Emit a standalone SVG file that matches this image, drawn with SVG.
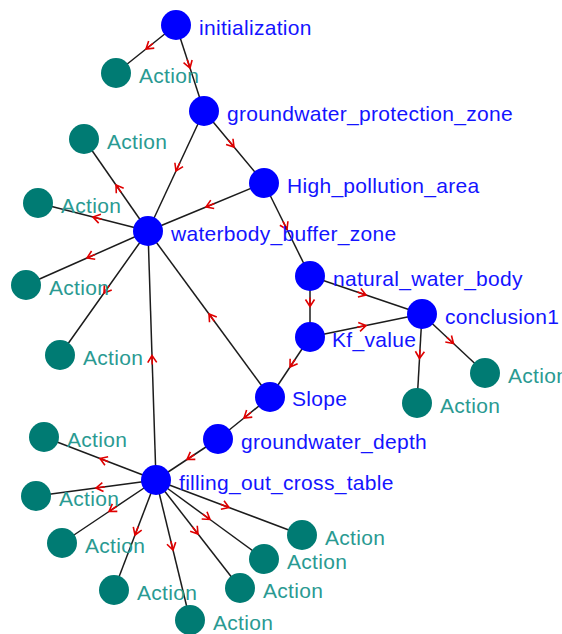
<svg xmlns="http://www.w3.org/2000/svg" width="562" height="634" viewBox="0 0 562 634">
  <style>
    .edge { fill: none; stroke: #1c1c1c; stroke-width: 1.5; marker-mid: url(#arr); }
    .rule { fill: #0000ff; }
    .act { fill: #007b73; }
    text { font-family: "Liberation Sans", Arial, sans-serif; font-size: 21px; letter-spacing: 0.3px; }
    .rule-t { fill: #1414ff; }
    .act-t { fill: #2a9a92; }
  </style>
  <defs>
    <marker id="arr" viewBox="-10 -6 12 12" markerWidth="12" markerHeight="12" refX="0" refY="0" orient="auto" markerUnits="userSpaceOnUse">
      <path d="M-7,-4.5 L0,0 L-7,4.5 M-9,0 L0,0" fill="none" stroke="#e00000" stroke-width="1.6"/>
    </marker>
  </defs>
  <rect width="562" height="634" fill="#ffffff"/>

  <g id="connectors">
    <path class="edge" d="M176,25 L146,49 L116,73"/>
    <path class="edge" d="M176,25 L190,68 L204,111"/>
    <path class="edge" d="M204,111 L176,171 L148,231"/>
    <path class="edge" d="M204,111 L234,147 L264,183"/>
    <path class="edge" d="M264,183 L206,207 L148,231"/>
    <path class="edge" d="M264,183 L287,229.5 L310,276"/>
    <path class="edge" d="M148,231 L116,185 L84,139"/>
    <path class="edge" d="M148,231 L93,217 L38,203"/>
    <path class="edge" d="M148,231 L87,258 L26,285"/>
    <path class="edge" d="M148,231 L104,293 L60,355"/>
    <path class="edge" d="M156,480 L152,355.5 L148,231"/>
    <path class="edge" d="M270,397 L209,314 L148,231"/>
    <path class="edge" d="M310,276 L310,306.5 L310,337"/>
    <path class="edge" d="M310,276 L366,295 L422,314"/>
    <path class="edge" d="M310,337 L366,325.5 L422,314"/>
    <path class="edge" d="M422,314 L419.5,358.5 L417,403"/>
    <path class="edge" d="M422,314 L453.5,343.5 L485,373"/>
    <path class="edge" d="M310,337 L290,367 L270,397"/>
    <path class="edge" d="M270,397 L244,418 L218,439"/>
    <path class="edge" d="M218,439 L187,459.5 L156,480"/>
    <path class="edge" d="M156,480 L100,458.5 L44,437"/>
    <path class="edge" d="M156,480 L96,488 L36,496"/>
    <path class="edge" d="M156,480 L109,511.5 L62,543"/>
    <path class="edge" d="M156,480 L135,535 L114,590"/>
    <path class="edge" d="M156,480 L173,550 L190,620"/>
    <path class="edge" d="M156,480 L198,534 L240,588"/>
    <path class="edge" d="M156,480 L210,519.5 L264,559"/>
    <path class="edge" d="M156,480 L229,507.5 L302,535"/>
  </g>

  <g id="initialization"><circle class="rule" cx="176" cy="25" r="15"/><text class="rule-t" x="199" y="35">initialization</text></g>
  <g id="groundwater_protection_zone"><circle class="rule" cx="204" cy="111" r="15"/><text class="rule-t" x="227" y="121">groundwater_protection_zone</text></g>
  <g id="High_pollution_area"><circle class="rule" cx="264" cy="183" r="15"/><text class="rule-t" x="287" y="193">High_pollution_area</text></g>
  <g id="waterbody_buffer_zone"><circle class="rule" cx="148" cy="231" r="15"/><text class="rule-t" x="171" y="241">waterbody_buffer_zone</text></g>
  <g id="natural_water_body"><circle class="rule" cx="310" cy="276" r="15"/><text class="rule-t" x="333" y="286">natural_water_body</text></g>
  <g id="Kf_value"><circle class="rule" cx="310" cy="337" r="15"/><text class="rule-t" x="332" y="347">Kf_value</text></g>
  <g id="conclusion1"><circle class="rule" cx="422" cy="314" r="15"/><text class="rule-t" x="445" y="324">conclusion1</text></g>
  <g id="Slope"><circle class="rule" cx="270" cy="397" r="15"/><text class="rule-t" x="292" y="406">Slope</text></g>
  <g id="groundwater_depth"><circle class="rule" cx="218" cy="439" r="15"/><text class="rule-t" x="241" y="449">groundwater_depth</text></g>
  <g id="filling_out_cross_table"><circle class="rule" cx="156" cy="480" r="15"/><text class="rule-t" x="179" y="490">filling_out_cross_table</text></g>

  <g id="action_1"><circle class="act" cx="116" cy="73" r="15"/><text class="act-t" x="139" y="83">Action</text></g>
  <g id="action_2"><circle class="act" cx="84" cy="139" r="15"/><text class="act-t" x="107" y="149">Action</text></g>
  <g id="action_3"><circle class="act" cx="38" cy="203" r="15"/><text class="act-t" x="61" y="213">Action</text></g>
  <g id="action_4"><circle class="act" cx="26" cy="285" r="15"/><text class="act-t" x="49" y="295">Action</text></g>
  <g id="action_5"><circle class="act" cx="60" cy="355" r="15"/><text class="act-t" x="83" y="365">Action</text></g>
  <g id="action_6"><circle class="act" cx="417" cy="403" r="15"/><text class="act-t" x="440" y="413">Action</text></g>
  <g id="action_7"><circle class="act" cx="485" cy="373" r="15"/><text class="act-t" x="508" y="383">Action</text></g>
  <g id="action_8"><circle class="act" cx="44" cy="437" r="15"/><text class="act-t" x="67" y="447">Action</text></g>
  <g id="action_9"><circle class="act" cx="36" cy="496" r="15"/><text class="act-t" x="59" y="506">Action</text></g>
  <g id="action_10"><circle class="act" cx="62" cy="543" r="15"/><text class="act-t" x="85" y="553">Action</text></g>
  <g id="action_11"><circle class="act" cx="114" cy="590" r="15"/><text class="act-t" x="137" y="600">Action</text></g>
  <g id="action_12"><circle class="act" cx="190" cy="620" r="15"/><text class="act-t" x="213" y="630">Action</text></g>
  <g id="action_13"><circle class="act" cx="240" cy="588" r="15"/><text class="act-t" x="263" y="598">Action</text></g>
  <g id="action_14"><circle class="act" cx="264" cy="559" r="15"/><text class="act-t" x="287" y="569">Action</text></g>
  <g id="action_15"><circle class="act" cx="302" cy="535" r="15"/><text class="act-t" x="325" y="545">Action</text></g>
</svg>
